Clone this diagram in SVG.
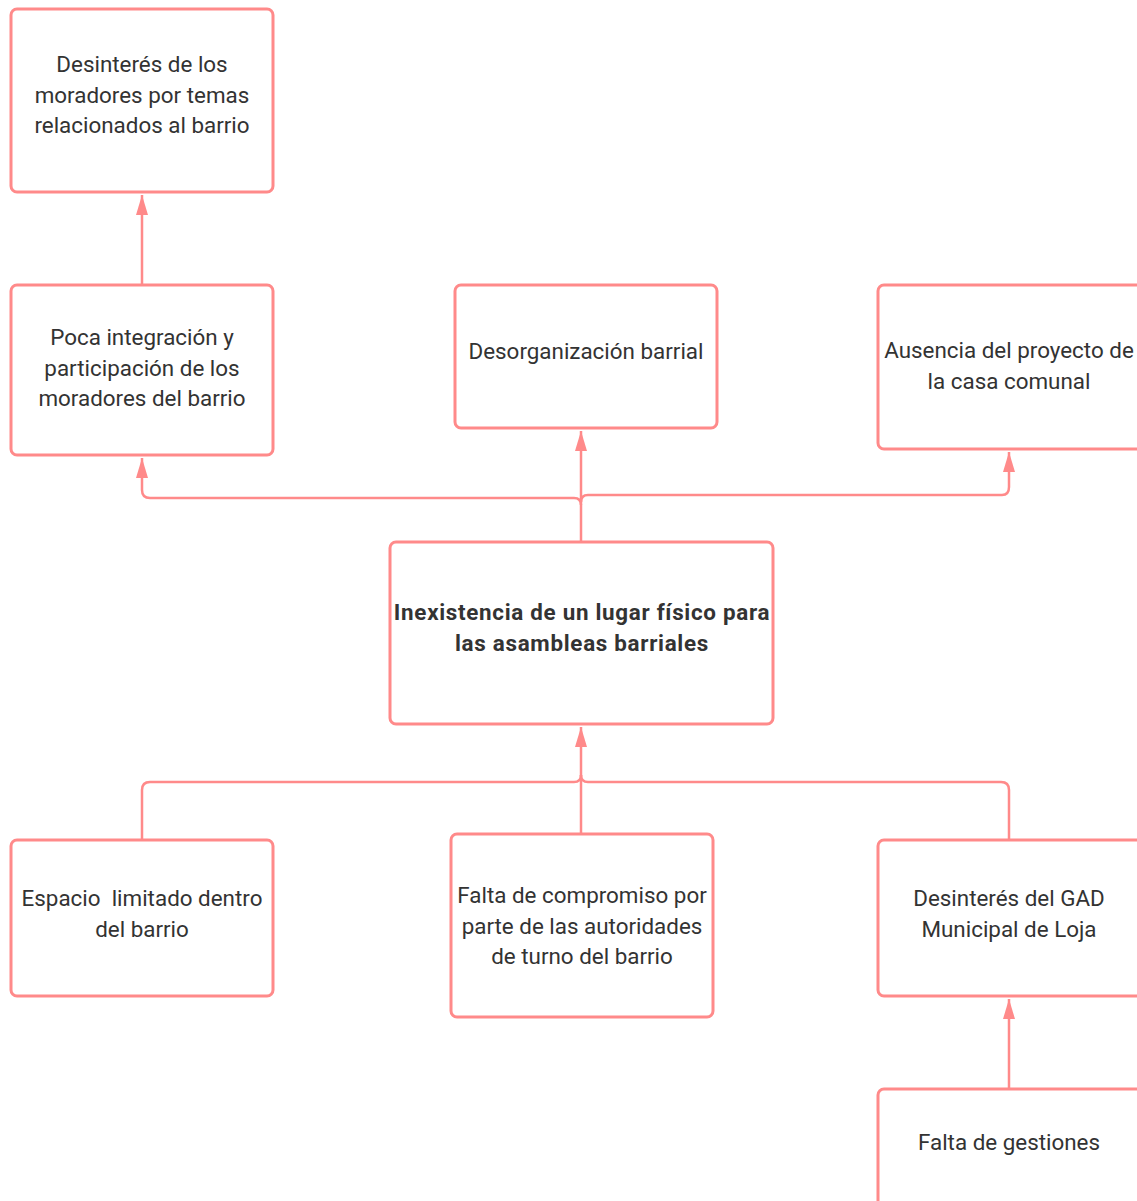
<svg xmlns="http://www.w3.org/2000/svg" width="1137" height="1201" viewBox="0 0 1137 1201">
<style>
.box{fill:#fff;stroke:#ff8a8a;stroke-width:3}
.t{font-family:Roboto,"Liberation Sans",sans-serif;font-size:22.4px;fill:#333;text-anchor:middle}
.b{font-weight:bold;letter-spacing:0.7px}
.c{fill:none;stroke:#ff8a8a;stroke-width:2.5}
</style>
<defs>
<marker id="ah" markerWidth="20" markerHeight="12" refX="20" refY="6" orient="auto" markerUnits="userSpaceOnUse" viewBox="0 0 20 12">
<path d="M0,0 L20,6 L0,12 Z" fill="#ff8a8a"/>
</marker>
</defs>
<rect width="1137" height="1201" fill="#fff"/>
<g id="n1"><rect class="box" x="11" y="9" width="262" height="183" rx="6"/>
<text class="t" x="142" y="72">Desinterés de los</text><text class="t" x="142" y="103">moradores por temas</text><text class="t" x="142" y="133">relacionados al barrio</text></g>
<g id="n2"><rect class="box" x="11" y="285" width="262" height="170" rx="6"/>
<text class="t" x="142" y="345">Poca integración y</text><text class="t" x="142" y="376">participación de los</text><text class="t" x="142" y="406">moradores del barrio</text></g>
<g id="n3"><rect class="box" x="455" y="285" width="262" height="143" rx="6"/>
<text class="t" x="586" y="359">Desorganización barrial</text></g>
<g id="n4"><rect class="box" x="878" y="285" width="265" height="164" rx="6"/>
<text class="t" x="1009" y="358">Ausencia del proyecto de</text><text class="t" x="1009" y="389">la casa comunal</text></g>
<g id="n5"><rect class="box" x="390" y="542" width="383" height="182" rx="6"/>
<text class="t b" x="582" y="620">Inexistencia de un lugar físico para</text><text class="t b" x="582" y="651">las asambleas barriales</text></g>
<g id="n6"><rect class="box" x="11" y="840" width="262" height="156" rx="6"/>
<text class="t" x="142" y="906" xml:space="preserve">Espacio  limitado dentro</text><text class="t" x="142" y="937">del barrio</text></g>
<g id="n7"><rect class="box" x="451" y="834" width="262" height="183" rx="6"/>
<text class="t" x="582" y="903">Falta de compromiso por</text><text class="t" x="582" y="934">parte de las autoridades</text><text class="t" x="582" y="964">de turno del barrio</text></g>
<g id="n8"><rect class="box" x="878" y="840" width="265" height="156" rx="6"/>
<text class="t" x="1009" y="906">Desinterés del GAD</text><text class="t" x="1009" y="937">Municipal de Loja</text></g>
<g id="n9"><rect class="box" x="878" y="1089" width="265" height="130" rx="6"/>
<text class="t" x="1009" y="1150">Falta de gestiones</text></g>
<g id="connectors">
<path class="c" d="M142,284 V195" marker-end="url(#ah)"/>
<path class="c" d="M581,541 V431" marker-end="url(#ah)"/>
<path class="c" d="M581,505 Q581,498 574,498 H150 Q142,498 142,490 V458" marker-end="url(#ah)"/>
<path class="c" d="M581,502 Q581,495 588,495 H1002 Q1009,495 1009,487 V452" marker-end="url(#ah)"/>
<path class="c" d="M142,839 V790 Q142,782 150,782 H574 Q581,782 581,775"/>
<path class="c" d="M1009,839 V790 Q1009,782 1001,782 H588 Q581,782 581,775"/>
<path class="c" d="M581,833 V727" marker-end="url(#ah)"/>
<path class="c" d="M1009,1088 V999" marker-end="url(#ah)"/>
</g>
</svg>
